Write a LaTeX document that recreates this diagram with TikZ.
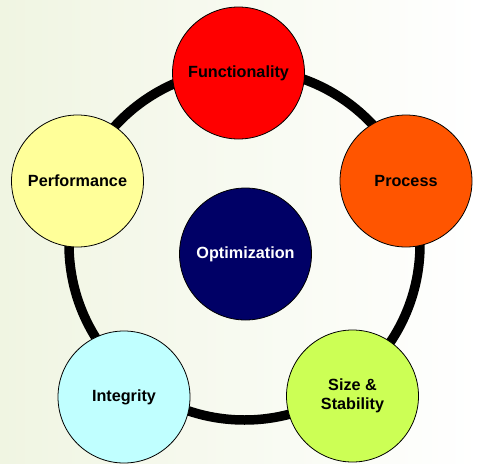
\documentclass[tikz,border=0pt]{standalone}
\usepackage{fontspec}
\setmainfont{Liberation Sans}
\definecolor{procorange}{HTML}{FF5500}
\definecolor{perfyellow}{HTML}{FFFF99}
\definecolor{optnavy}{HTML}{000066}
\definecolor{intcyan}{HTML}{C0FFFF}
\definecolor{sizelime}{HTML}{CCFF55}
\definecolor{bgleft}{HTML}{F0F5E2}
\tikzset{topic/.style={circle,draw,line width=0.8pt,minimum size=132pt,inner sep=0pt,
        align=center,font=\fontsize{16.2}{19}\selectfont\bfseries}}
\begin{document}
\begin{tikzpicture}[x=1pt,y=-1pt]
        \shade[left color=bgleft,right color=white] (0,0) rectangle (479,463);
        \useasboundingbox (0,0) rectangle (479,463);
        \coordinate (c) at (244.5,244.5);
        \draw[line width=9.5pt] (c) circle (175.5);
        \node[topic,fill=red] (F) at (238.5,73) {Functionality};
        \node[topic,fill=procorange] (P) at (406,181) {Process};
        \node[topic,fill=sizelime] (S) at (352.5,396) {Size \&\\Stability};
        \node[topic,fill=intcyan] (I) at (124,397) {Integrity};
        \node[topic,fill=perfyellow] (Pf) at (77.5,181) {Performance};
        \node[topic,fill=optnavy,text=white] (O) at (245.5,254) {Optimization};
    \end{tikzpicture}
\end{document}
